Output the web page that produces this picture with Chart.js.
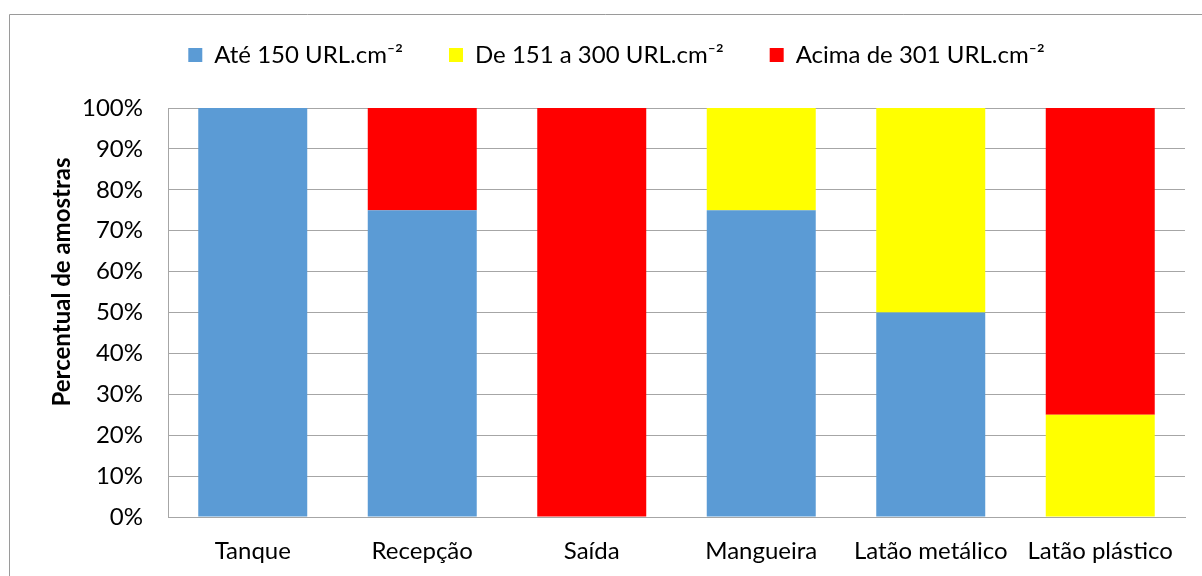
<!DOCTYPE html>
<html>
<head>
<meta charset="utf-8">
<title>Percentual de amostras</title>
<script src="https://cdn.jsdelivr.net/npm/chart.js@4/dist/chart.umd.min.js"></script>
<style>
  html, body { margin: 0; padding: 0; background: #fff; }
  #chart { display: block; }
</style>
</head>
<body>
<canvas id="chart" width="1202" height="576"></canvas>
<script>
// categories + stacked series (percent of samples)
var CATEGORIES = ['Tanque', 'Recepção', 'Saída', 'Mangueira', 'Latão metálico', 'Latão plástico'];
var ATE_150 = [100, 75, 0, 75, 50, 0];
var DE_151_300 = [0, 0, 0, 25, 50, 25];
var ACIMA_301 = [0, 25, 100, 0, 0, 75];
var SERIES_LABELS = ['Até 150 URL.cm⁻²', 'De 151 a 300 URL.cm⁻²', 'Acima de 301 URL.cm⁻²'];
var Y_TITLE = 'Percentual de amostras';

var FONT = "Lato, 'Open Sans', sans-serif";
var GRID = '#a6a6a6';
var LEGEND_GAP = 31;   // empty band between legend and plot

// outer frame (only top + left edges are visible in the picture) and rotated axis title
var framePlugin = {
  id: 'frame',
  beforeUpdate: function (chart) {
    if (chart.$spacer || !Chart.layouts) return;
    chart.$spacer = {
      position: 'top', weight: 0, fullSize: true, options: {},
      left: 0, top: 0, right: 0, bottom: 0, width: 0, height: 0,
      isHorizontal: function () { return true; },
      update: function (w) { this.width = w; this.height = LEGEND_GAP; },
      draw: function () {}
    };
    Chart.layouts.addBox(chart, chart.$spacer);
  },
  beforeDraw: function (chart) {
    var c = chart.ctx;
    c.save();
    c.strokeStyle = '#9a9a9a';
    c.lineWidth = 1;
    c.beginPath();
    c.moveTo(9.5, chart.height);
    c.lineTo(9.5, 14.5);
    c.lineTo(chart.width, 14.5);
    c.stroke();
    c.restore();
  },
  afterDraw: function (chart) {
    var c = chart.ctx;
    c.save();
    c.translate(62, 282);
    c.rotate(-Math.PI / 2);
    c.font = 'bold 24px ' + FONT;
    c.fillStyle = '#000';
    c.textAlign = 'center';
    c.textBaseline = 'middle';
    c.fillText(Y_TITLE, 0, 0);
    c.restore();
  }
};

new Chart(document.getElementById('chart'), {
  type: 'bar',
  data: {
    labels: CATEGORIES,
    datasets: [
      { label: SERIES_LABELS[0], data: ATE_150, backgroundColor: '#5b9bd5' },
      { label: SERIES_LABELS[1], data: DE_151_300, backgroundColor: '#ffff00' },
      { label: SERIES_LABELS[2], data: ACIMA_301, backgroundColor: '#ff0000' }
    ]
  },
  options: {
    responsive: false,
    animation: false,
    devicePixelRatio: 1,
    layout: { padding: { top: -3, left: 48, right: 17, bottom: 0 } },
    datasets: { bar: { categoryPercentage: 1, barPercentage: 0.643, borderWidth: 0 } },
    plugins: {
      legend: {
        position: 'top',
        labels: { boxWidth: 14, boxHeight: 14, padding: 46, color: '#000', font: { family: FONT, size: 24 } }
      },
      tooltip: { enabled: false }
    },
    scales: {
      x: {
        stacked: true,
        grid: { display: false, drawTicks: false },
        border: { color: GRID, width: 1 },
        ticks: { color: '#000', padding: 20, maxRotation: 0, autoSkip: false, font: { family: FONT, size: 24 } },
        afterFit: function (s) { s.height = 59; }
      },
      y: {
        stacked: true,
        min: 0, max: 100,
        grid: { color: GRID, lineWidth: 1, drawTicks: false },
        border: { color: GRID, width: 1 },
        ticks: {
          stepSize: 10, color: '#000', padding: 25,
          font: { family: FONT, size: 24 },
          callback: function (v) { return v + '%'; }
        },
        afterFit: function (s) { s.width = 120; }
      }
    }
  },
  plugins: [framePlugin]
});
</script>
</body>
</html>
